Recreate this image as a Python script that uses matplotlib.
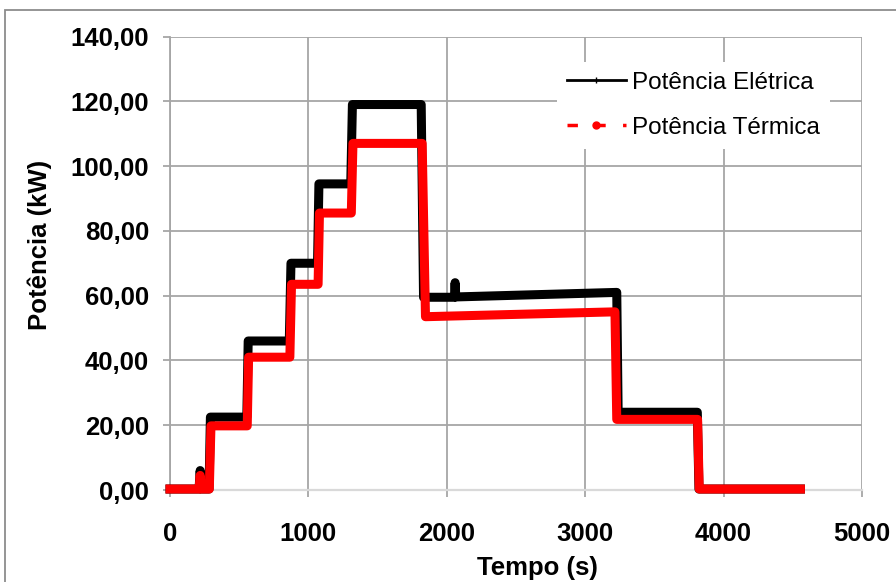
import matplotlib
matplotlib.use("Agg")
import matplotlib.pyplot as plt
from matplotlib.lines import Line2D
from matplotlib.patches import Rectangle
from matplotlib.ticker import FuncFormatter

# Potência elétrica (kW)
t_ele = [0, 210, 218, 226, 282, 292, 555, 565, 862, 874, 1066, 1076, 1306, 1318,
         1815, 1832, 2055, 2060, 2065, 3228, 3238, 3810, 3822, 4555]
p_ele = [0.3, 0.3, 6.0, 0.3, 0.3, 22.5, 22.5, 46.0, 46.0, 70.0, 70.0, 94.5, 94.5, 119.0,
         119.0, 59.5, 59.5, 64.0, 59.6, 61.0, 24.0, 24.0, 0.3, 0.3]

# Potência térmica (kW)
t_ter = [0, 210, 218, 226, 284, 296, 558, 568, 866, 878, 1070, 1080, 1310, 1322,
         1822, 1846, 3215, 3228, 3812, 3824, 4555]
p_ter = [0.3, 0.3, 4.5, 0.3, 0.3, 19.8, 19.8, 41.0, 41.0, 63.5, 63.5, 85.5, 85.5, 107.0,
         107.0, 53.5, 55.0, 21.8, 21.8, 0.3, 0.3]

x_ticks = [0, 1000, 2000, 3000, 4000, 5000]
y_ticks = [0, 20, 40, 60, 80, 100, 120, 140]

plt.rcParams['font.family'] = ['Liberation Sans', 'DejaVu Sans']

fig = plt.figure(figsize=(8.96, 5.82), dpi=100)
ax = fig.add_axes([170 / 896, 1 - 490 / 582, 692 / 896, 453.5 / 582])

# moldura externa
fig.patches.append(Rectangle((5 / 896, -0.2), 2, 1 - 10 / 582 + 0.2, transform=fig.transFigure,
                             fill=False, edgecolor='#8c8c8c', linewidth=1.3))

ax.plot(t_ele, p_ele, color='black', linewidth=6.5, solid_joinstyle='round', clip_on=False, zorder=3)
ax.plot(t_ter, p_ter, color='#ff0000', linewidth=6.5, solid_joinstyle='round', clip_on=False, zorder=4)

ax.set_xlim(0, 5000)
ax.set_ylim(0, 140)
ax.set_xticks(x_ticks)
ax.set_yticks(y_ticks)
ax.yaxis.set_major_formatter(FuncFormatter(lambda v, p: f"{v:.2f}".replace('.', ',')))

ax.grid(True, color='#a6a6a6', linewidth=1.3)
ax.set_axisbelow(True)
for s in ['top', 'right']:
    ax.spines[s].set_visible(False)
ax.spines['left'].set_color('#a6a6a6')
ax.spines['left'].set_linewidth(1.3)
ax.spines['bottom'].set_color('#d9d9d9')
ax.spines['bottom'].set_linewidth(1.6)

ax.tick_params(axis='both', direction='out', length=5, width=1.3, color='#a6a6a6',
               labelsize=18.5)
ax.tick_params(axis='y', pad=10)
ax.tick_params(axis='x', pad=18)
for lab in ax.get_xticklabels() + ax.get_yticklabels():
    lab.set_fontweight('bold')

fig.text(537 / 896, 1 - 568 / 582, 'Tempo (s)', ha='center', va='center',
         fontsize=18.5, fontweight='bold')
fig.text(40 / 896, 1 - 245 / 582, 'Potência (kW)', ha='center', va='center',
         rotation=90, fontsize=18.5, fontweight='bold')

h_ele = Line2D([], [], color='black', linewidth=2, marker='|', markersize=4)
h_ter = Line2D([], [], color='#ff0000', linewidth=2.5, linestyle=(0, (3, 5)),
               marker='o', markersize=5)
leg = ax.legend([h_ele, h_ter], ['Potência Elétrica', 'Potência Térmica'],
                loc='upper left', bbox_to_anchor=((557 - 170) / 692, (490 - 62) / 453.5),
                borderaxespad=0, borderpad=0.4, fontsize=17.5, handlelength=2.45,
                handletextpad=0.25, labelspacing=0.95, frameon=True, fancybox=False)
leg.get_frame().set_facecolor('white')
leg.get_frame().set_edgecolor('none')
leg.get_frame().set_alpha(1)
leg.set_zorder(5)

fig.savefig('out.png', dpi=100)
